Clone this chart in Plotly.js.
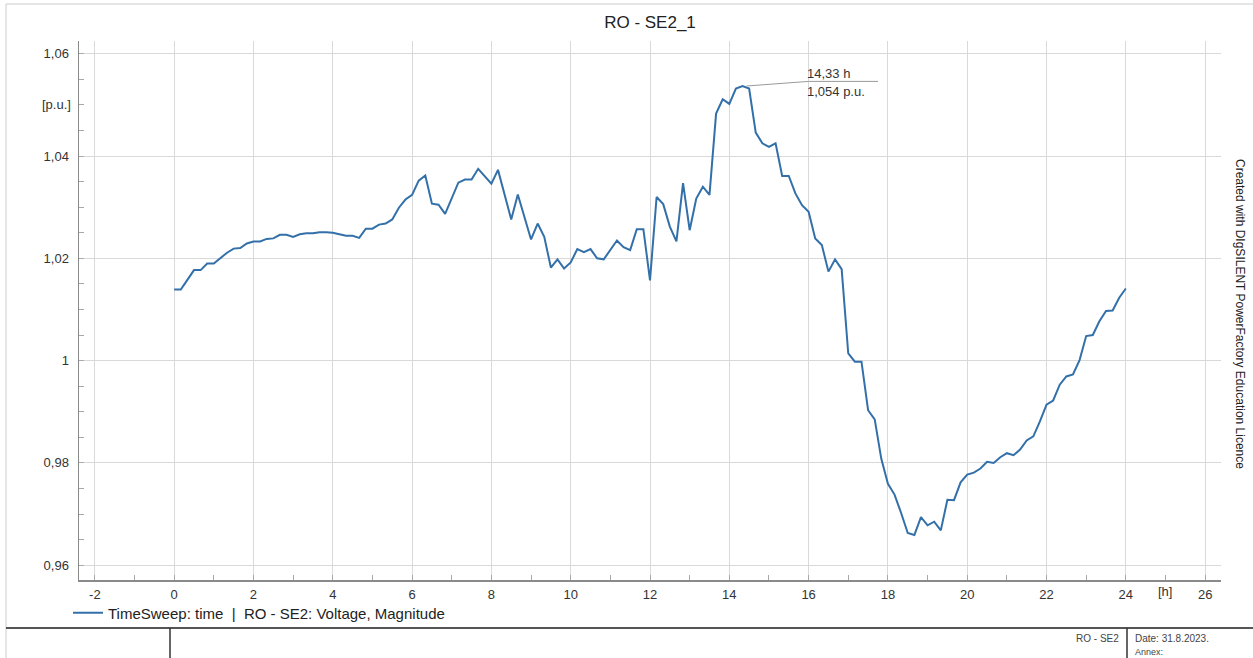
<!DOCTYPE html>
<html>
<head>
<meta charset="utf-8">
<script src="https://cdn.plot.ly/plotly-3.0.1.min.js"></script>
<style>html,body{margin:0;padding:0;background:#fff;}#chart{width:1253px;height:658px;}</style>
</head>
<body>
<div id="chart"></div>
<script>
// ---- data (10-minute steps, 0..24 h) ----
const stepHours = 1 / 6;
const voltagePU = [
  1.0139, 1.0139, 1.0158, 1.0177, 1.0177, 1.0190, 1.0190, 1.0200, 1.0211, 1.0219,
  1.0220, 1.0229, 1.0233, 1.0233, 1.0238, 1.0239, 1.0246, 1.0246, 1.0242, 1.0247,
  1.0249, 1.0249, 1.0251, 1.0251, 1.0250, 1.0247, 1.0244, 1.0244, 1.0240, 1.0258,
  1.0258, 1.0266, 1.0268, 1.0276, 1.0299, 1.0315, 1.0324, 1.0352, 1.0362, 1.0307,
  1.0305, 1.0287, 1.0318, 1.0348, 1.0354, 1.0354, 1.0375, 1.0361, 1.0346, 1.0373,
  1.0325, 1.0276, 1.0325, 1.0283, 1.0237, 1.0268, 1.0242, 1.0182, 1.0198, 1.0180,
  1.0192, 1.0218, 1.0212, 1.0218, 1.0200, 1.0198, 1.0216, 1.0235, 1.0222, 1.0216,
  1.0257, 1.0257, 1.0157, 1.0320, 1.0306, 1.0262, 1.0233, 1.0347, 1.0255, 1.0317,
  1.0340, 1.0324, 1.0483, 1.0511, 1.0502, 1.0532, 1.0537, 1.0532, 1.0446, 1.0425,
  1.0418, 1.0425, 1.0361, 1.0361, 1.0327, 1.0304, 1.0291, 1.0239, 1.0226, 1.0174,
  1.0198, 1.0179, 1.0014, 0.9998, 0.9998, 0.9903, 0.9885, 0.9808, 0.9759, 0.9738,
  0.9702, 0.9663, 0.9659, 0.9694, 0.9678, 0.9685, 0.9668, 0.9728, 0.9727, 0.9762,
  0.9777, 0.9781, 0.9789, 0.9802, 0.9800, 0.9811, 0.9819, 0.9815, 0.9826, 0.9844,
  0.9852, 0.9881, 0.9914, 0.9922, 0.9953, 0.9969, 0.9973, 1.0001, 1.0048, 1.0050,
  1.0077, 1.0097, 1.0098, 1.0123, 1.0141
];
const hours = voltagePU.map((_, i) => i * stepHours);

// ---- tick labels ----
const xTickVals = [-2, 0, 2, 4, 6, 8, 10, 12, 14, 16, 18, 20, 22, 24, 26];
const xTickText = ['-2', '0', '2', '4', '6', '8', '10', '12', '14', '16', '18', '20', '22', '24', '26'];
const yTickVals = [0.96, 0.98, 1.00, 1.02, 1.04, 1.06];
const yTickText = ['0,96', '0,98', '1', '1,02', '1,04', '1,06'];

const chartTitle = 'RO - SE2_1';
const seriesName = 'TimeSweep: time\u00a0\u00a0|\u00a0\u00a0RO - SE2: Voltage, Magnitude';
const xUnit = '[h]';
const yUnit = '[p.u.]';
const sideNote = 'Created with DIgSILENT PowerFactory Education Licence';
const footerObject = 'RO - SE2';
const footerDate = 'Date: 31.8.2023.';
const footerAnnex = 'Annex:';

// ---- peak label derived from data ----
let peakIdx = 0;
voltagePU.forEach((v, i) => { if (v > voltagePU[peakIdx]) peakIdx = i; });
const peakX = hours[peakIdx], peakY = voltagePU[peakIdx];
const fmt = (v, d) => v.toFixed(d).replace('.', ',');

// ---- layout helpers (pixel -> paper) ----
const W = 1253, H = 658, L = 79, R = 32, T = 41, B = 78;
const pw = W - L - R, ph = H - T - B;
const px = p => (p - L) / pw;
const py = p => (H - B - p) / ph;

const FONT = 'Liberation Sans, Arial, Helvetica, sans-serif';
const lineColor = '#3370a9';

const trace = {
  x: hours, y: voltagePU, type: 'scatter', mode: 'lines',
  name: seriesName,
  line: { color: lineColor, width: 2 },
  hoverinfo: 'skip'
};

const layout = {
  width: W, height: H,
  margin: { l: L, r: R, t: T, b: B },
  paper_bgcolor: '#fff', plot_bgcolor: '#fff',
  font: { family: FONT, size: 13, color: '#333' },
  title: {
    text: chartTitle, font: { family: FONT, size: 17, color: '#222' },
    xref: 'container', yref: 'container', x: 650 / W, y: 1 - 22 / H,
    xanchor: 'center', yanchor: 'middle'
  },
  showlegend: true,
  legend: {
    orientation: 'h', x: px(68), y: py(613), xanchor: 'left', yanchor: 'middle',
    font: { family: FONT, size: 15, color: '#222' }, bgcolor: 'rgba(0,0,0,0)'
  },
  xaxis: {
    range: [-2.4, 26.4], tickmode: 'array', tickvals: xTickVals, ticktext: xTickText,
    showgrid: true, gridcolor: '#d9d9d9', gridwidth: 1,
    zeroline: false, showline: true, linecolor: '#8a8a8a', linewidth: 1.5,
    ticks: '', ticklabelstandoff: 2,
    tickfont: { family: FONT, size: 13, color: '#333' },
    minor: { tickmode: 'linear', dtick: 1, tick0: 0, ticks: 'inside', ticklen: 5, tickcolor: '#aaaaaa', showgrid: false },
    fixedrange: true
  },
  yaxis: {
    range: [0.9571, 1.0625], tickmode: 'array', tickvals: yTickVals, ticktext: yTickText,
    showgrid: true, gridcolor: '#d9d9d9', gridwidth: 1,
    zeroline: false, showline: true, linecolor: '#8a8a8a', linewidth: 1.5,
    ticks: '', ticklabelstandoff: 6,
    tickfont: { family: FONT, size: 13, color: '#333' },
    minor: { tickmode: 'linear', dtick: 0.005, tick0: 0.96, ticks: 'inside', ticklen: 5, tickcolor: '#aaaaaa', showgrid: false },
    fixedrange: true
  },
  shapes: [
    // outer frame
    { type: 'line', xref: 'paper', yref: 'paper', x0: px(6), x1: px(1253), y0: py(4), y1: py(4), line: { color: '#cccccc', width: 1 } },
    { type: 'line', xref: 'paper', yref: 'paper', x0: px(6), x1: px(6), y0: py(4), y1: py(658), line: { color: '#cccccc', width: 1 } },
    // footer box
    { type: 'line', xref: 'paper', yref: 'paper', x0: px(6), x1: px(1253), y0: py(628), y1: py(628), line: { color: '#555555', width: 2 } },
    { type: 'line', xref: 'paper', yref: 'paper', x0: px(170), x1: px(170), y0: py(628), y1: py(658), line: { color: '#333333', width: 1.5 } },
    { type: 'line', xref: 'paper', yref: 'paper', x0: px(1127), x1: px(1127), y0: py(628), y1: py(658), line: { color: '#333333', width: 1.5 } },
    // peak label leader
    { type: 'line', xref: 'x', yref: 'y', x0: peakX + 0.1, y0: peakY, x1: 16.0, y1: 1.0546, line: { color: '#9a9a9a', width: 1 } },
    { type: 'line', xref: 'x', yref: 'y', x0: 16.0, y0: 1.0546, x1: 17.75, y1: 1.0546, line: { color: '#9a9a9a', width: 1 } }
  ],
  annotations: [
    { xref: 'paper', yref: 'y', x: 0, y: 1.05, text: yUnit, showarrow: false, xanchor: 'right', yanchor: 'middle', xshift: -6,
      font: { family: FONT, size: 13, color: '#333' } },
    { xref: 'x', yref: 'paper', x: 25, y: 0, text: xUnit, showarrow: false, xanchor: 'center', yanchor: 'top', yshift: -2,
      font: { family: FONT, size: 13, color: '#333' } },
    { xref: 'x', yref: 'y', x: 15.9, y: 1.0562, text: fmt(peakX, 2) + ' h', showarrow: false, xanchor: 'left', yanchor: 'middle',
      font: { family: FONT, size: 13, color: '#333' } },
    { xref: 'x', yref: 'y', x: 15.9, y: 1.0527, text: fmt(peakY, 3) + ' p.u.', showarrow: false, xanchor: 'left', yanchor: 'middle',
      font: { family: FONT, size: 13, color: '#333' } },
    { xref: 'paper', yref: 'paper', x: px(1240), y: py(314), text: sideNote, showarrow: false, textangle: 90,
      xanchor: 'center', yanchor: 'middle', font: { family: FONT, size: 12, color: '#222' } },
    { xref: 'paper', yref: 'paper', x: px(1121), y: py(638), text: footerObject, showarrow: false, xanchor: 'right', yanchor: 'middle',
      font: { family: FONT, size: 10, color: '#444' } },
    { xref: 'paper', yref: 'paper', x: px(1133), y: py(638), text: footerDate, showarrow: false, xanchor: 'left', yanchor: 'middle',
      font: { family: FONT, size: 10, color: '#444' } },
    { xref: 'paper', yref: 'paper', x: px(1133), y: py(652), text: footerAnnex, showarrow: false, xanchor: 'left', yanchor: 'middle',
      font: { family: FONT, size: 9, color: '#444' } }
  ]
};

Plotly.newPlot('chart', [trace], layout, { displayModeBar: false, staticPlot: true });
</script>
</body>
</html>
